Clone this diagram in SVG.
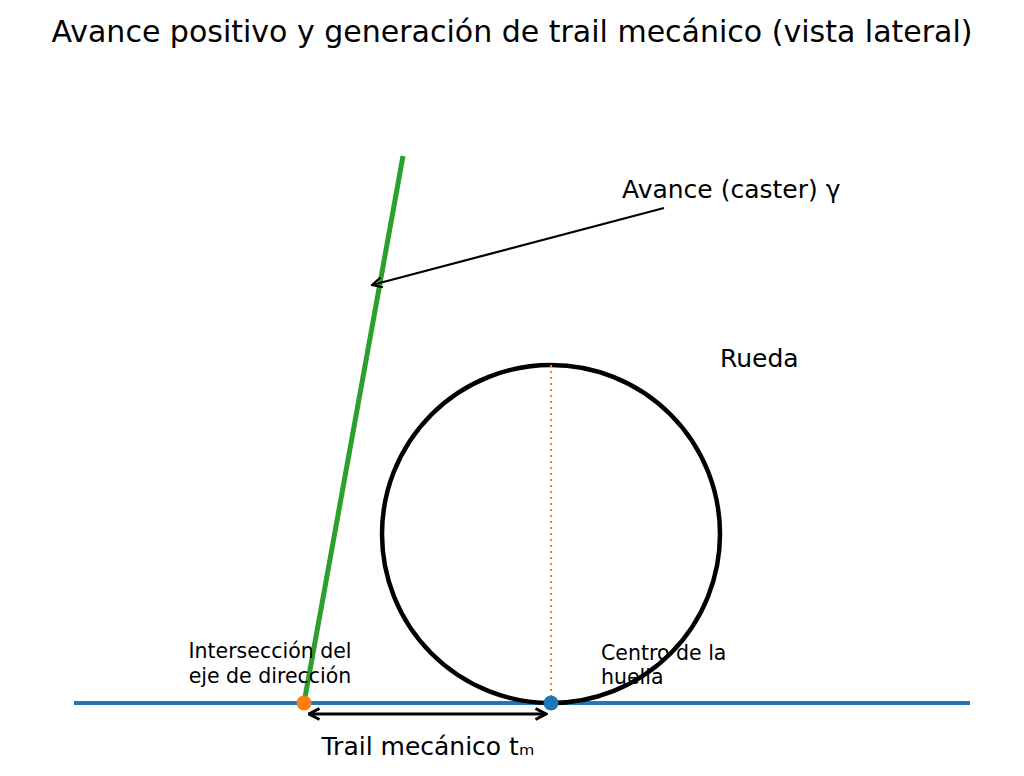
<svg xmlns="http://www.w3.org/2000/svg" width="1024" height="776" viewBox="0 0 1024 776">
<style>
text{font-family:"DejaVu Sans",sans-serif;fill:#000}
.t25{font-size:25px}
.t20{font-size:20.5px}
</style>
<defs>
<marker id="open" viewBox="0 0 12 12" refX="11" refY="6" markerWidth="12" markerHeight="12" markerUnits="userSpaceOnUse" orient="auto-start-reverse">
<path d="M1,1 L11,6 L1,11" fill="none" stroke="#000" stroke-width="2.2"/>
</marker>
<marker id="open2" viewBox="0 0 14 14" refX="12.5" refY="7" markerWidth="14" markerHeight="14" markerUnits="userSpaceOnUse" orient="auto-start-reverse">
<path d="M2,1.5 L12.5,7 L2,12.5" fill="none" stroke="#000" stroke-width="3"/>
</marker>
</defs>
<rect width="1024" height="776" fill="#fff"/>
<text x="512" y="42" font-size="30" text-anchor="middle">Avance positivo y generación de trail mecánico (vista lateral)</text>
<g id="ground"><line x1="74" y1="703" x2="970" y2="703" stroke="#1f77b4" stroke-width="4"/></g>
<g id="wheel"><circle cx="551" cy="534" r="169" fill="none" stroke="#000" stroke-width="4.5"/></g>
<g id="connectors">
<line x1="551" y1="365" x2="551" y2="703" stroke="#ff7f0e" stroke-width="2" stroke-dasharray="2,4"/>
<line x1="304" y1="703" x2="403" y2="156" stroke="#2ca02c" stroke-width="5"/>
<line x1="664" y1="208" x2="372" y2="285" stroke="#000" stroke-width="2.2" marker-end="url(#open)"/>
<line x1="309" y1="714" x2="546" y2="714" stroke="#000" stroke-width="3.2" marker-start="url(#open2)" marker-end="url(#open2)"/>
</g>
<g id="points">
<circle cx="304" cy="703" r="7.5" fill="#ff7f0e"/>
<circle cx="551" cy="703" r="7.5" fill="#1f77b4"/>
</g>
<g id="labels">
<text class="t25" x="622" y="198">Avance (caster) γ</text>
<text class="t25" x="720" y="367">Rueda</text>
<text class="t20" x="270" y="658" text-anchor="middle">Intersección del</text>
<text class="t20" x="270" y="683" text-anchor="middle">eje de dirección</text>
<text class="t20" x="601" y="660">Centro de la</text>
<text class="t20" x="601" y="684">huella</text>
<text class="t25" x="428" y="755" text-anchor="middle">Trail mecánico tₘ</text>
</g>
</svg>
